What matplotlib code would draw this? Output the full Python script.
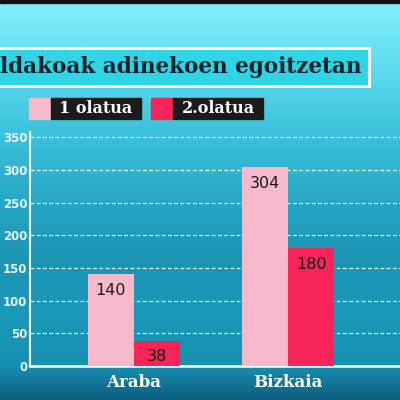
import numpy as np
import matplotlib
matplotlib.use('Agg')
import matplotlib.pyplot as plt
from matplotlib.colors import LinearSegmentedColormap
from matplotlib.patches import Rectangle

# Data
categories = ['Araba', 'Bizkaia']
wave1 = [140, 304]
wave2 = [38, 180]
series_names = ['1 olatua', '2.olatua']
yticks = [0, 50, 100, 150, 200, 250, 300, 350]
title_text = 'ldakoak adinekoen egoitzetan'

pink = '#f5b9c9'
red = '#f7245a'

fig = plt.figure(figsize=(4, 4), dpi=100)

# Background gradient (top light cyan -> bottom deep teal)
bg = fig.add_axes([0, 0, 1, 1], zorder=-5)
bg_cmap = LinearSegmentedColormap.from_list('bg', [
    (0.0, '#84eefa'), (0.15, '#62def0'), (0.33, '#3cc2dc'),
    (0.5, '#27a8c6'), (0.65, '#1c94b4'), (0.78, '#1a99b8'),
    (0.915, '#1791b1'), (0.95, '#147c9e'), (1.0, '#0e5f80')])
grad = np.linspace(0, 1, 400).reshape(-1, 1)
bg.imshow(grad, aspect='auto', cmap=bg_cmap, extent=[0, 1, 0, 1])
bg.add_patch(Rectangle((0, 0.992), 1, 0.01, color='#111111'))
bg.set_xlim(0, 1)
bg.set_ylim(0, 1)
bg.axis('off')

# Title box
bg.add_patch(Rectangle((-0.02, 0.785), 0.942, 0.095, facecolor='#2fd5e6',
                       edgecolor='white', linewidth=2.2))
bg.text(0.0, 0.832, title_text, fontsize=15.5, fontweight='bold',
        family='DejaVu Serif', color='#10222a', va='center', ha='left')

# Legend boxes
for i, name in enumerate(series_names):
    x0 = 0.073 + i * 0.305
    bg.add_patch(Rectangle((x0, 0.703), 0.055, 0.052, color=[pink, red][i]))
    bg.add_patch(Rectangle((x0 + 0.055, 0.703), 0.225, 0.052, color='#1b1b1b'))
    bg.text(x0 + 0.167, 0.729, name, fontsize=11.5, fontweight='bold',
            family='DejaVu Serif', color='white', ha='center', va='center')

# Chart
ax = fig.add_axes([0.075, 0.085, 0.925, 0.585])
ax.set_facecolor('none')
x = np.arange(len(categories))
w = 0.3
b1 = ax.bar(x - w / 2, wave1, w, color=pink, zorder=3)
b2 = ax.bar(x + w / 2, wave2, w, color=red, zorder=3)

for bars, vals in [(b1, wave1), (b2, wave2)]:
    for bar, v in zip(bars, vals):
        ax.annotate(str(v), (bar.get_x() + bar.get_width() / 2, v),
                    xytext=(0, -6), textcoords='offset points',
                    ha='center', va='top', fontsize=11.5, color='#1a1a1a',
                    zorder=4)

ax.set_xlim(-0.675, 1.727)
ax.set_ylim(0, 358)
ax.set_yticks(yticks)
ax.set_yticklabels([str(t) for t in yticks], fontsize=8.5, fontweight='bold',
                   color='#e6f6fa')
ax.set_xticks(x)
ax.set_xticklabels(categories, fontsize=12, fontweight='bold',
                   family='DejaVu Serif', color='white')
ax.tick_params(axis='y', length=0, pad=2)
ax.tick_params(axis='x', length=0, pad=6)
ax.grid(axis='y', linestyle=(0, (3, 2)), color='white', linewidth=0.9,
        alpha=0.9, zorder=1)
for s in ['top', 'right']:
    ax.spines[s].set_visible(False)
ax.spines['left'].set_color('white')
ax.spines['bottom'].set_color('white')
ax.spines['left'].set_linewidth(1.5)
ax.spines['bottom'].set_linewidth(1.8)

fig.savefig('out.png', dpi=100)
